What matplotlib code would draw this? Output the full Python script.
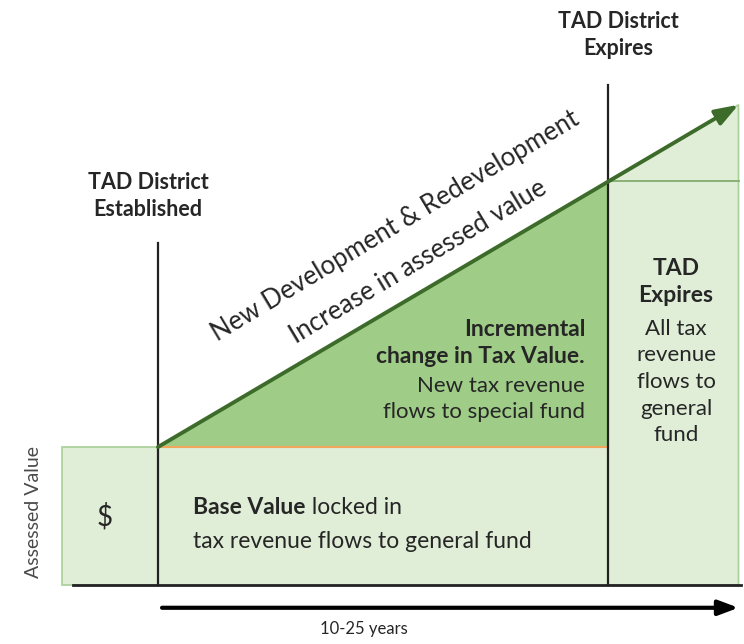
"""Tax Allocation District (TAD) concept diagram."""

import matplotlib
matplotlib.use("Agg")
import matplotlib.pyplot as plt
from matplotlib.patches import Polygon, Rectangle

plt.rcParams["font.family"] = ["Lato", "DejaVu Sans"]

# Timeline (years, relative to district establishment)
pre_start = -4.27          # left "$" box starts
year_established = 0.0
year_expires = 20.0
year_end = 25.8            # tip of the growth arrow

# Assessed value (in multiples of the base value)
base_value = 1.0
value_at_expiry = 2.93
value_end = 3.48

# Colours
light_green = "#e0eed7"
light_edge = "#a8cf96"
mid_green = "#9fcd87"
dark_green = "#3d6b2a"
orange = "#f2a65a"
text_col = "#262626"

# pixel -> data helpers (figure is 744 x 644 px)
PX_X = 22.5
PX_Y = 138.0


def px(x, y):
    return (x - 158) / PX_X, (585 - y) / PX_Y


fig = plt.figure(figsize=(7.44, 6.44), dpi=100)
ax = fig.add_axes([0, 0, 1, 1])
ax.set_xlim(-158 / PX_X, (744 - 158) / PX_X)
ax.set_ylim((585 - 644) / PX_Y, 585 / PX_Y)
ax.axis("off")

# Pre-district box with the "$"
ax.add_patch(Rectangle((pre_start, 0), year_established - pre_start, base_value,
                       facecolor=light_green, edgecolor=light_edge, lw=1.2))

# Base value block
ax.add_patch(Rectangle((year_established, 0), year_expires - year_established, base_value,
                       facecolor=light_green, edgecolor="none"))

# Post-expiry block
ax.add_patch(Polygon([(year_expires, 0), (year_end, 0), (year_end, value_end),
                      (year_expires, value_at_expiry)],
                     facecolor=light_green, edgecolor=light_edge, lw=1.2))
ax.plot([year_expires, year_end], [value_at_expiry, value_at_expiry],
        color="#7aa866", lw=1.2)

# Incremental triangle
ax.add_patch(Polygon([(year_established, base_value), (year_expires, value_at_expiry),
                      (year_expires, base_value)],
                     facecolor=mid_green, edgecolor="none"))
ax.plot([year_established, year_expires], [base_value, base_value], color=orange, lw=1.5)

# Growth arrow
ax.annotate("", xy=(year_end, value_end), xytext=(year_established, base_value),
            arrowprops=dict(arrowstyle="-|>,head_length=1.4,head_width=0.5",
                            color=dark_green, lw=2.8, shrinkA=0, shrinkB=0))

# Vertical markers
ax.plot([year_established, year_established], [0, 2.48], color="#222222", lw=1.6)
ax.plot([year_expires, year_expires], [0, 3.62], color="#222222", lw=1.6)

# Baseline
ax.plot([-3.76, year_end + 0.1], [0, 0], color="#222222", lw=2)

# Time arrow
ax.annotate("", xy=(year_end, -0.165), xytext=(0.18, -0.165),
            arrowprops=dict(arrowstyle="-|>,head_length=1.2,head_width=0.45",
                            color="black", lw=3, shrinkA=0, shrinkB=0))
ax.text(*px(364, 629), "10-25 years", ha="center", va="center", fontsize=12,
        color=text_col)

# Labels
ax.text(*px(33, 512), "Assessed Value", rotation=90, ha="center", va="center",
        fontsize=14, color="#4a4a4a")
ax.text(*px(105, 517), "$", ha="center", va="center", fontsize=20, color=text_col)

ax.text(*px(148, 196), "TAD District\nEstablished", ha="center", va="center",
        fontsize=15.5, fontweight="bold", color=text_col, linespacing=1.3)
ax.text(*px(618, 35), "TAD District\nExpires", ha="center", va="center",
        fontsize=15.5, fontweight="bold", color=text_col, linespacing=1.4)

ax.text(*px(395, 226), "New Development & Redevelopment",
        rotation=31, rotation_mode="anchor", ha="center", va="center",
        fontsize=18.5, color=text_col)
ax.text(*px(418, 262), "Increase in assessed value",
        rotation=31, rotation_mode="anchor", ha="center", va="center",
        fontsize=18.5, color=text_col)

ax.text(*px(585, 343), "Incremental\nchange in Tax Value.", ha="right", va="center",
        fontsize=16.5, fontweight="bold", color=text_col, linespacing=1.3)
ax.text(*px(585, 399), "New tax revenue\nflows to special fund", ha="right", va="center",
        fontsize=16, color=text_col, linespacing=1.35)

ax.text(*px(676, 282), "TAD\nExpires", ha="center", va="center",
        fontsize=16.5, fontweight="bold", color=text_col, linespacing=1.4)
ax.text(*px(676, 382), "All tax\nrevenue\nflows to\ngeneral\nfund", ha="center",
        va="center", fontsize=16, color=text_col, linespacing=1.42)

bold_part = ax.text(*px(193, 508), "Base Value", ha="left", va="center",
                    fontsize=16.5, fontweight="bold", color=text_col)
ax.annotate(" locked in", xy=(1, 0.5), xycoords=bold_part, ha="left", va="center",
            fontsize=16.5, color=text_col)
ax.text(*px(193, 541), "tax revenue flows to general fund", ha="left", va="center",
        fontsize=16.5, color=text_col)

fig.savefig("out.png", dpi=100)
